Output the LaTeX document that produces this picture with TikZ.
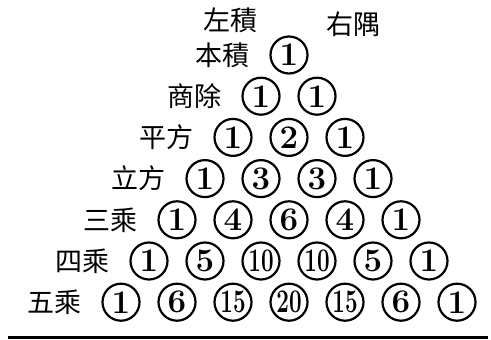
\documentclass[tikz,border=0pt]{standalone}
\usepackage{fontspec}
\usepackage{graphicx}
\usetikzlibrary{positioning}
\newfontfamily\cjk{Noto Sans CJK TC}
\tikzset{
  num/.style={circle, draw, line width=2.2pt, minimum size=37pt, inner sep=0pt,
    font=\fontsize{33}{33}\selectfont\bfseries},
  rowlab/.style={font=\cjk\fontsize{27}{27}\selectfont, inner sep=0pt},
}

\begin{document}
\begin{tikzpicture}[x=1pt, y=1pt]
\useasboundingbox (0,0) rectangle (491,340);
\node[rowlab] (zuo) at (230,320) {左積};
\node[rowlab] (you) at (353,316) {右隅};
\foreach \n/\vals/\lab in {0/{1}/本積, 1/{1,1}/商除, 2/{1,2,1}/平方,
  3/{1,3,3,1}/立方, 4/{1,4,6,4,1}/三乘, 5/{1,5,10,10,5,1}/四乘,
  6/{1,6,15,20,15,6,1}/五乘}
{
  \foreach \v [count=\k from 0] in \vals
  {
    \pgfmathsetmacro\cx{289 + (\k - \n/2)*56}
    \pgfmathsetmacro\cy{285 - \n*41.2}
    \node[num] (c-\n-\k) at (\cx,\cy) {\ifnum\v>9 \scalebox{0.68}[1]{\v}\else\v\fi};
  }
  \node[rowlab, left=20pt of c-\n-0] (lab-\n) {\lab};
}
% rule under the triangle
\draw[line width=3pt] (8,2) -- (488,2);
\end{tikzpicture}
\end{document}
